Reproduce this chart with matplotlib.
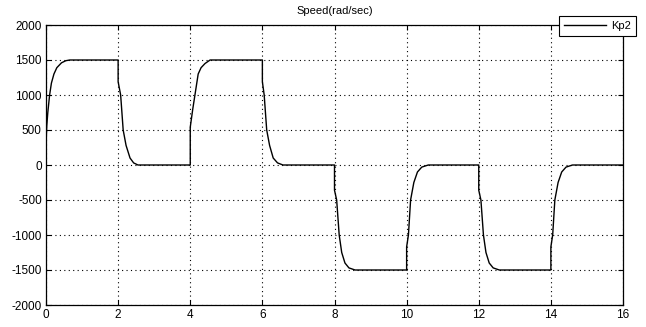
import matplotlib
matplotlib.use("Agg")
import matplotlib.pyplot as plt

# Speed samples (time in s, speed in rad/sec)
time = [0.0, 0.02, 0.05, 0.10, 0.15, 0.22, 0.30, 0.43, 0.55, 0.66, 2.0,
        2.0, 2.07, 2.14, 2.22, 2.33, 2.43, 2.55, 4.0,
        4.0, 4.07, 4.13, 4.22, 4.30, 4.41, 4.55, 6.0,
        6.0, 6.05, 6.12, 6.20, 6.30, 6.42, 6.57, 8.0,
        8.0, 8.06, 8.13, 8.20, 8.29, 8.40, 8.57, 10.0,
        10.0, 10.05, 10.11, 10.20, 10.30, 10.42, 10.60, 12.0,
        12.0, 12.06, 12.13, 12.20, 12.29, 12.40, 12.57, 14.0,
        14.0, 14.05, 14.11, 14.20, 14.30, 14.42, 14.60, 16.0]
speed = [300, 550, 750, 1000, 1170, 1300, 1390, 1460, 1490, 1500, 1500,
         1190, 1000, 500, 280, 100, 30, 0, 0,
         540, 800, 1000, 1300, 1390, 1450, 1500, 1500,
         1190, 1000, 500, 280, 100, 30, 0, 0,
         -360, -500, -1000, -1250, -1400, -1470, -1500, -1500,
         -1170, -1000, -500, -250, -100, -30, 0, 0,
         -360, -500, -1000, -1250, -1400, -1470, -1500, -1500,
         -1170, -1000, -500, -250, -100, -30, 0, 0]

xticks = [0, 2, 4, 6, 8, 10, 12, 14, 16]
yticks = [-2000, -1500, -1000, -500, 0, 500, 1000, 1500, 2000]
title = "Speed(rad/sec)"
series_label = "Kp2"

plt.rcParams['font.family'] = ['Liberation Sans', 'DejaVu Sans']
plt.rcParams['font.size'] = 8
plt.rcParams['axes.unicode_minus'] = False

fig = plt.figure(figsize=(6.46, 3.27), dpi=100)
ax = fig.add_axes([46/646, 1-305/327, (623-46)/646, (305-25)/327])

ax.plot(time, speed, color='black', linewidth=1.0, label=series_label)

ax.set_xlim(0, 16)
ax.set_ylim(-2000, 2000)
ax.set_xticks(xticks)
ax.set_yticks(yticks)
ax.grid(True, color='black', linestyle=(0, (1, 3)), linewidth=0.8)
ax.tick_params(direction='in', length=3.5, width=0.8, top=True, right=True,
               labelsize=8.5, pad=3)
for s in ax.spines.values():
    s.set_linewidth(0.9)

ax.set_title(title, fontsize=8, pad=8)

leg = fig.legend(loc='upper left', bbox_to_anchor=(559/646, 1-16/327),
                 bbox_transform=fig.transFigure, fancybox=False,
                 edgecolor='black', framealpha=1, handlelength=3.8,
                 borderpad=0.45, fontsize=8, handletextpad=0.4,
                 borderaxespad=0)
leg.get_frame().set_linewidth(0.8)

fig.savefig("out.png", dpi=100)
